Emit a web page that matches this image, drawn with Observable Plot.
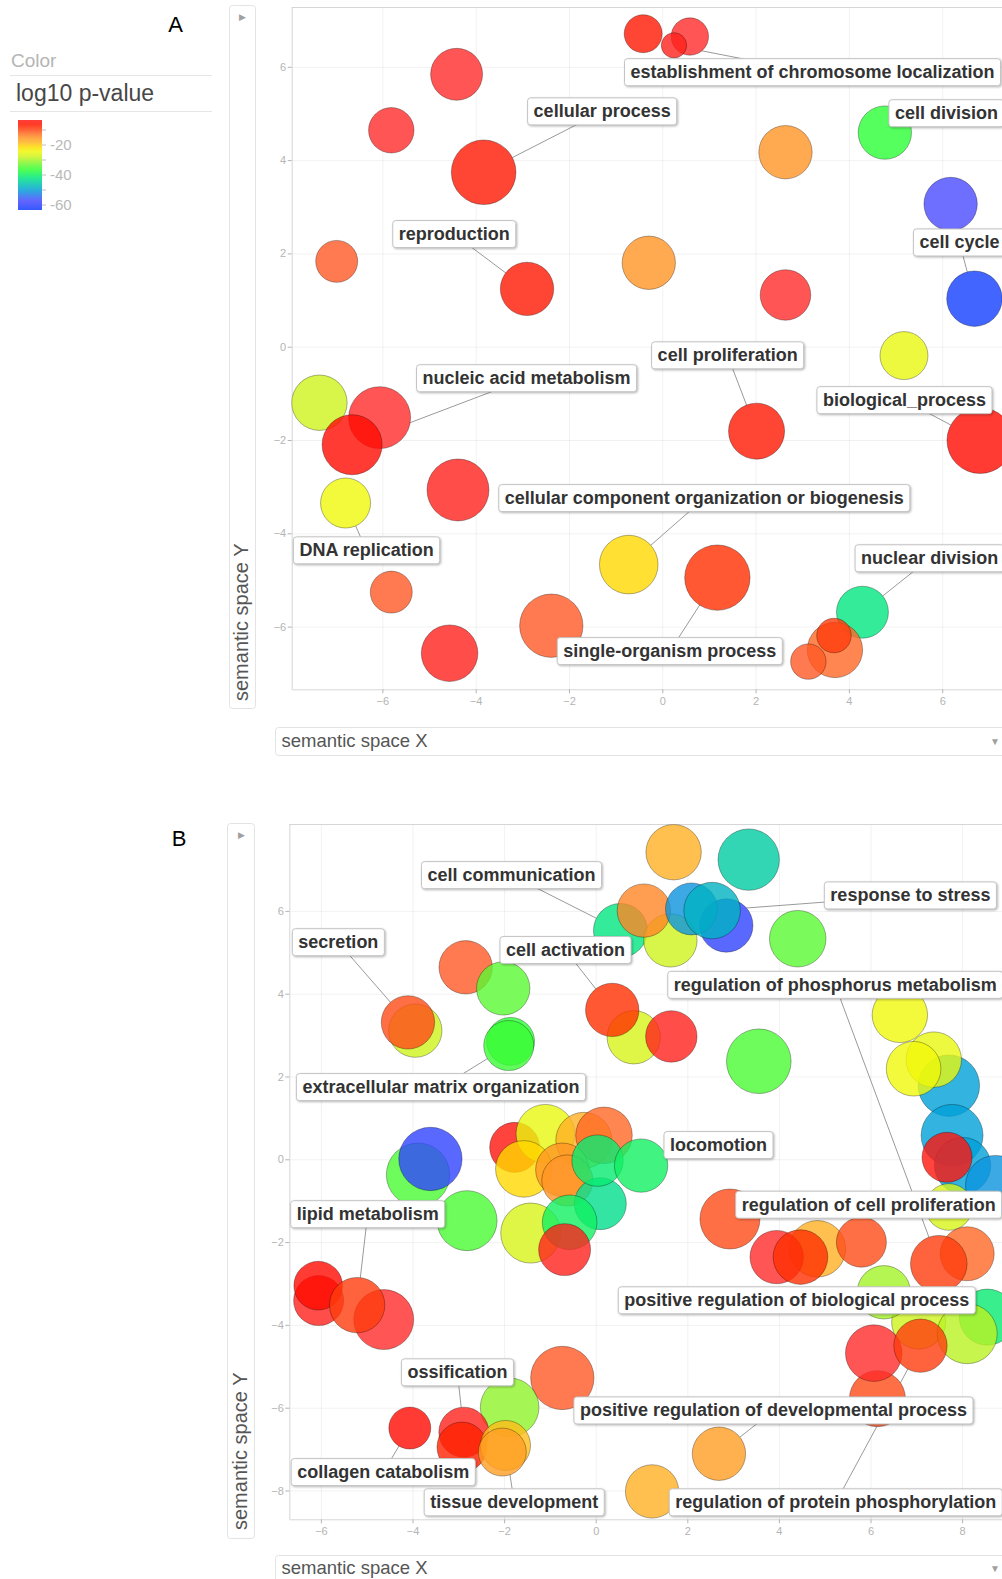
<!DOCTYPE html>
<html>
<head>
<meta charset="utf-8">
<script src="https://cdn.jsdelivr.net/npm/d3@7"></script>
<script src="https://cdn.jsdelivr.net/npm/@observablehq/plot@0.6"></script>
<style>
  html, body { margin: 0; padding: 0; background: #fff; }
  #page { position: relative; width: 1002px; height: 1579px; overflow: hidden; font-family: "Liberation Sans", Arial, sans-serif; }
  #page > svg { position: absolute; }
</style>
</head>
<body>
<div id="page"></div>
<script>
// ---- shared colour ramp: log10 p-value -> bubble fill ----
const colorDomain = [-64, -57, -50, -42, -37, -32, -28, -24, -21, -18, -15, -11, -8, -5, -1];
const colorRange  = ["#0a3cff", "#4a4aff", "#00a0d8", "#00e680", "#2aff36", "#7af530", "#cef21d",
                     "#f0f80a", "#ffd800", "#ffb024", "#ff9524", "#ff5924", "#ff2e00", "#ff0a00", "#ff3636"];
const legendTicks = [-10, -20, -30, -40, -50, -60];
const legendLabels = [-20, -40, -60];

// ---- panel A: GO terms in semantic space ----
const aX    = [-4.42, -5.82, -3.84, -6.99, -2.91, -0.42, 0.58, 0.24, 2.63, 4.76, 6.17, -0.30, 2.63, 6.68, 5.17, 2.01,
               6.80, -0.73, 1.17, 4.28, 3.69, 3.12, 3.67, -7.36, -6.07, -6.66, -6.80, -4.39, -5.82, -2.39, -4.57];
const aY    = [5.85, 4.65, 3.75, 1.84, 1.25, 6.72, 6.66, 6.47, 4.18, 4.60, 3.07, 1.81, 1.12, 1.04, -0.18, -1.80,
               -2.00, -4.66, -4.94, -5.68, -6.49, -6.74, -6.18, -1.19, -1.51, -2.09, -3.34, -3.06, -5.25, -5.97, -6.56];
const aP    = [-2, -2, -6, -11, -6, -6, -2, -3, -15, -37, -57, -15, -2, -63, -25, -6,
               -5, -21, -8, -42, -12, -11, -9, -28, -2, -5, -24, -3, -11, -11, -3];
const aSize = [4.06, 3.55, 5.05, 3.28, 4.17, 2.97, 2.92, 1.98, 4.17, 4.17, 4.17, 4.17, 3.95, 4.33, 3.75, 4.38,
               5.16, 4.58, 5.11, 4.06, 4.33, 2.77, 2.70, 4.33, 4.84, 4.69, 3.91, 4.84, 3.28, 4.95, 4.42];

const aLabels = ["establishment of chromosome localization", "cellular process", "cell division", "reproduction",
                 "cell cycle", "cell proliferation", "nucleic acid metabolism", "biological_process",
                 "cellular component organization or biogenesis", "DNA replication", "nuclear division",
                 "single-organism process"];
const aLabelX = [3.21, -1.30, 6.08, -4.47, 6.36, 1.39, -2.92, 5.18, 0.89, -6.35, 5.72, 0.15];
const aLabelY = [5.89, 5.05, 5.01, 2.42, 2.24, -0.18, -0.67, -1.14, -3.24, -4.36, -4.53, -6.52];
const aLabelTarget = [7, 2, 9, 4, 13, 15, 25, 16, 17, 26, 19, 18];

// ---- panel B ----
const bX    = [-2.85, -2.03, -3.95, -4.11, -1.87, -1.91, 1.69, 3.33, 0.53, 1.62, 1.04, 2.84, 2.08, 2.53, 4.40, 0.82,
               0.35, 1.64, 3.55, 6.63, 7.70, 7.37, 6.93, 7.77, 8.00, 8.72, 7.66, 7.70, 8.10, 7.48, 8.54, 7.04,
               8.10, 6.28, 6.14, 6.06, 7.08, 2.92, 4.83, 3.94, 4.46, 5.79, 2.68, 1.22, -3.89, -3.62, -2.82, -6.06,
               -4.64, -6.07, -5.22, -1.78, -1.11, -0.27, 0.17, -1.58, -0.74, -0.63, 0.09, 0.03, 0.98, -1.43, -0.58,
               -0.69, -0.74, -1.89, -2.89, -2.93, -1.98, -2.05, -4.07];
const bY    = [4.65, 4.14, 3.12, 3.32, 2.86, 2.76, 7.43, 7.25, 5.54, 5.30, 6.02, 5.66, 6.06, 6.02, 5.34, 2.96,
               3.62, 2.98, 2.38, 3.50, 1.79, 2.42, 2.20, 0.59, -0.14, -0.62, 0.06, -1.14, -2.27, -2.51, -3.80, -3.92,
               -4.20, -3.20, -5.77, -4.67, -4.49, -1.43, -2.15, -2.35, -2.35, -1.99, -7.10, -8.01, -0.36, 0.02, -1.47, -3.40,
               -3.86, -3.04, -3.51, 0.30, 0.63, 0.47, 0.59, -0.22, -0.24, -0.50, -1.06, -0.02, -0.14, -1.77, -1.51,
               -2.17, -5.27, -5.98, -6.58, -6.94, -6.90, -7.06, -6.48];
const bP    = [-11, -34, -28, -10, -37, -36, -18, -45, -42, -28, -14, -60, -51, -48, -34, -27,
               -8, -3, -35, -24, -50, -25, -24, -50, -50, -51, -4, -27, -12, -9, -41, -28,
               -29, -30, -10, -2, -9, -10, -18, -2, -8, -10, -16, -18, -35, -60, -35, -3,
               -2, -5, -9, -4, -25, -18, -12, -21, -15, -15, -43, -41, -40, -27, -40,
               -3, -11, -31, -3, -7, -19, -16, -5];
const bSize = [4.17, 4.17, 4.17, 4.17, 3.75, 3.91, 4.33, 4.80, 4.22, 4.17, 4.17, 4.17, 4.06, 4.42, 4.42, 4.17,
               4.17, 4.02, 5.05, 4.33, 4.80, 4.33, 4.27, 4.84, 4.40, 4.70, 3.91, 3.65, 4.22, 4.42, 4.38, 4.22,
               4.69, 4.17, 4.38, 4.42, 4.17, 4.69, 4.42, 4.17, 4.27, 3.91, 4.17, 4.17, 4.95, 4.95, 4.69, 3.91,
               4.69, 3.80, 4.33, 3.91, 4.58, 4.38, 4.42, 4.42, 4.17, 4.00, 4.06, 4.02, 4.17, 4.69, 4.27,
               4.06, 4.95, 4.58, 3.91, 3.91, 3.91, 3.75, 3.28];

const bLabels = ["cell communication", "response to stress", "secretion", "cell activation",
                 "regulation of phosphorus metabolism", "extracellular matrix organization", "locomotion",
                 "lipid metabolism", "regulation of cell proliferation", "positive regulation of biological process",
                 "ossification", "positive regulation of developmental process", "collagen catabolism",
                 "tissue development", "regulation of protein phosphorylation"];
const bLabelX = [-1.85, 6.86, -5.63, -0.67, 5.22, -3.39, 2.67, -4.99, 5.95, 4.38, -3.03, 3.87, -4.65, -1.79, 5.23];
const bLabelY = [6.87, 6.38, 5.25, 5.06, 4.22, 1.75, 0.35, -1.32, -1.09, -3.40, -5.14, -6.06, -7.55, -8.28, -8.28];
const bLabelTarget = [8, 13, 3, 16, 29, 5, 60, 50, 27, 31, 66, 42, 70, 68, 36];

// ---- helpers ----
const page = document.getElementById("page");
const color = d3.scaleLinear().domain(colorDomain).range(colorRange).interpolate(d3.interpolateRgb).clamp(true);

function rows(xs, ys, ps, sizes) {
  return xs.map((x, i) => ({x, y: ys[i], p: ps[i], size: sizes[i]}));
}
function labelRows(names, lxs, lys, targets, xs, ys) {
  return names.map((name, i) => ({name, lx: lxs[i], ly: lys[i], tx: xs[targets[i]], ty: ys[targets[i]]}));
}

// white rounded boxes behind the term labels
function boxLabels(svg) {
  svg.querySelectorAll('g[aria-label="text"] text').forEach(t => {
    const b = t.getBBox();
    const r = document.createElementNS("http://www.w3.org/2000/svg", "rect");
    r.setAttribute("x", b.x - 6);
    r.setAttribute("y", b.y - 3.5);
    r.setAttribute("width", b.width + 12);
    r.setAttribute("height", b.height + 7);
    r.setAttribute("rx", 3);
    r.setAttribute("fill", "#fff");
    r.setAttribute("stroke", "#c4c4c4");
    r.setAttribute("stroke-width", 1);
    r.setAttribute("style", "filter: drop-shadow(1.5px 1.5px 1.2px rgba(0,0,0,0.28))");
    const tr = t.getAttribute("transform");
    if (tr) r.setAttribute("transform", tr);
    t.parentNode.insertBefore(r, t);
  });
}

function panel({data, labels, xDomain, yDomain, xTicks, yTicks, width, height, marginLeft, marginTop, marginBottom}) {
  return Plot.plot({
    width, height, marginLeft, marginTop, marginBottom, marginRight: 0,
    x: {domain: xDomain, label: null},
    y: {domain: yDomain, label: null},
    r: {type: "linear", domain: [0, 5], range: [0, 32]},
    color: {type: "linear", domain: colorDomain, range: colorRange, interpolate: "rgb", clamp: true},
    style: {background: "transparent", fontFamily: "'Liberation Sans', Arial, sans-serif", overflow: "visible"},
    marks: [
      Plot.gridX(xTicks, {stroke: "#000", strokeOpacity: 0.055}),
      Plot.gridY(yTicks, {stroke: "#000", strokeOpacity: 0.055}),
      Plot.ruleX([xDomain[0]], {stroke: "#d6d6d6"}),
      Plot.ruleY([yDomain[0], yDomain[1]], {stroke: "#d6d6d6"}),
      Plot.axisX(xTicks, {tickSize: 4, tickPadding: 3, fontSize: 11, color: "#b4b4b4"}),
      Plot.axisY(yTicks, {tickSize: 4, tickPadding: 2, fontSize: 11, color: "#b4b4b4"}),
      // leader lines run from each label to its bubble centre, hidden under the bubble
      Plot.link(labels, {x1: "lx", y1: "ly", x2: "tx", y2: "ty", stroke: "#9a9a9a", strokeWidth: 1}),
      Plot.dot(data, {x: "x", y: "y", r: "size", fill: "#fff", sort: null}),
      Plot.dot(data, {x: "x", y: "y", r: "size", fill: "p", fillOpacity: 0.8,
                      stroke: "#000", strokeOpacity: 0.3, strokeWidth: 1, sort: null}),
      Plot.text(labels, {x: "lx", y: "ly", text: "name", fontSize: 18, fontWeight: "bold", fill: "#333"})
    ]
  });
}

// ---- page decoration: panel letters, legend, axis title boxes ----
const deco = d3.select(page).append("svg")
  .attr("width", 1002).attr("height", 1579)
  .style("left", "0px").style("top", "0px")
  .attr("font-family", "'Liberation Sans', Arial, sans-serif");

deco.append("text").attr("x", 175.5).attr("y", 32).attr("text-anchor", "middle")
  .attr("font-size", 22).attr("fill", "#000").text("A");
deco.append("text").attr("x", 179).attr("y", 846).attr("text-anchor", "middle")
  .attr("font-size", 22).attr("fill", "#000").text("B");

// legend
deco.append("text").attr("x", 11).attr("y", 67).attr("font-size", 19).attr("fill", "#b5b5b5").text("Color");
deco.append("line").attr("x1", 10).attr("x2", 212).attr("y1", 75.5).attr("y2", 75.5).attr("stroke", "#e6e6e6");
deco.append("text").attr("x", 16).attr("y", 101).attr("font-size", 23).attr("fill", "#474747").text("log10 p-value");
deco.append("line").attr("x1", 10).attr("x2", 212).attr("y1", 111.5).attr("y2", 111.5).attr("stroke", "#e6e6e6");

const legendY = d3.scaleLinear().domain([-20, -60]).range([145, 205]);
const legTop = legendY.invert(120), legBottom = legendY.invert(210);
const grad = deco.append("defs").append("linearGradient").attr("id", "pramp")
  .attr("x1", 0).attr("x2", 0).attr("y1", 0).attr("y2", 1);
d3.range(0, 1.0001, 0.05).forEach(t => {
  grad.append("stop").attr("offset", t).attr("stop-color", color(legTop + t * (legBottom - legTop)));
});
deco.append("rect").attr("x", 18).attr("y", 120).attr("width", 24).attr("height", 90)
  .attr("fill", "url(#pramp)").attr("fill-opacity", 0.85);
legendTicks.forEach(v => {
  deco.append("line").attr("x1", 42).attr("x2", 46).attr("y1", legendY(v)).attr("y2", legendY(v))
    .attr("stroke", "#c0c0c0");
});
legendLabels.forEach(v => {
  deco.append("text").attr("x", 50).attr("y", legendY(v) + 5.3).attr("font-size", 15)
    .attr("fill", "#b8b8b8").text(v);
});

// axis title boxes
function yTitle(x, y, w, h, textX, textY) {
  deco.append("rect").attr("x", x).attr("y", y).attr("width", w).attr("height", h).attr("rx", 3)
    .attr("fill", "#fff").attr("stroke", "#e3e3e3");
  deco.append("text").attr("x", x + w / 2).attr("y", y + 14).attr("text-anchor", "middle")
    .attr("font-size", 9).attr("fill", "#a0a0a0").text("\u25B6");
  deco.append("text").attr("transform", `translate(${textX},${textY}) rotate(-90)`)
    .attr("font-size", 20).attr("fill", "#555").text("semantic space Y");
}
function xTitle(x, y, h, baseline) {
  deco.append("rect").attr("x", x).attr("y", y).attr("width", 760).attr("height", h).attr("rx", 3)
    .attr("fill", "#fff").attr("stroke", "#e3e3e3");
  deco.append("text").attr("x", x + 6).attr("y", baseline).attr("font-size", 18.5).attr("fill", "#555")
    .text("semantic space X");
  deco.append("text").attr("x", 990).attr("y", baseline - 2).attr("font-size", 10).attr("fill", "#a0a0a0")
    .text("\u25BC");
}
yTitle(229.5, 5.5, 26, 703, 248, 701);
xTitle(275.5, 727.5, 28, 746.5);
yTitle(227.5, 823.5, 27, 715, 247, 1530);
xTitle(275.5, 1555.5, 40, 1574);

// ---- panel A ----
const svgA = panel({
  data: rows(aX, aY, aP, aSize),
  labels: labelRows(aLabels, aLabelX, aLabelY, aLabelTarget, aX, aY),
  xDomain: [-7.944, 8.311], yDomain: [-7.344, 7.282],
  xTicks: [-6, -4, -2, 0, 2, 4, 6], yTicks: [-6, -4, -2, 0, 2, 4, 6],
  width: 800, height: 720, marginLeft: 41.7, marginTop: 7, marginBottom: 30.7
});
svgA.style.left = "250px"; svgA.style.top = "0px";
page.appendChild(svgA);
boxLabels(svgA);

// ---- panel B ----
const svgB = panel({
  data: rows(bX, bY, bP, bSize),
  labels: labelRows(bLabels, bLabelX, bLabelY, bLabelTarget, bX, bY),
  xDomain: [-6.69, 9.919], yDomain: [-8.696, 8.099],
  xTicks: [-6, -4, -2, 0, 2, 4, 6, 8], yTicks: [-8, -6, -4, -2, 0, 2, 4, 6],
  width: 800, height: 740, marginLeft: 39.3, marginTop: 24, marginBottom: 20.7
});
svgB.style.left = "250px"; svgB.style.top = "800px";
page.appendChild(svgB);
boxLabels(svgB);
</script>
</body>
</html>
